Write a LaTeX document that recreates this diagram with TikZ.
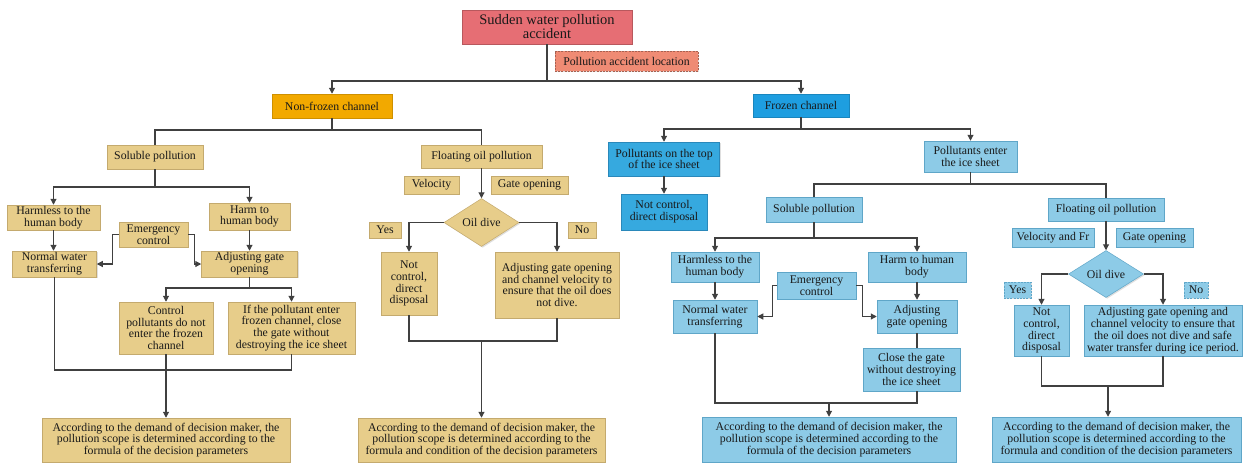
\documentclass[tikz,border=0pt]{standalone}
\usepackage{fontspec}
\setmainfont{Liberation Serif}
\usetikzlibrary{arrows.meta,shapes.geometric,shadows}
\definecolor{tanF}{HTML}{E7CD8A}
\definecolor{tanD}{HTML}{C4AA6E}
\definecolor{lbF}{HTML}{8DCBE7}
\definecolor{lbD}{HTML}{5FA6C8}
\definecolor{sbF}{HTML}{36A9DF}
\definecolor{sbD}{HTML}{2A88BA}
\definecolor{fzF}{HTML}{1E9EE0}
\definecolor{nfF}{HTML}{F2A900}
\definecolor{rdF}{HTML}{E66E74}
\definecolor{locF}{HTML}{EF8B74}
\definecolor{lineC}{HTML}{404040}
\begin{document}
\begin{tikzpicture}[x=1pt,y=-1pt,
  every node/.style={font=\fontsize{11.8}{11.8}\selectfont, text=black!90, align=center, inner sep=0.5pt},
  base/.style={rectangle, line width=0.5pt, drop shadow={shadow xshift=1.2pt, shadow yshift=-1.2pt, opacity=.25}},
  sz/.style 2 args={minimum width=#1pt, minimum height=#2pt},
  tanbox/.style={base, fill=tanF, draw=tanD},
  lbbox/.style={base, fill=lbF, draw=lbD},
  sbbox/.style={base, fill=sbF, draw=sbD},
  dia/.style={diamond, inner sep=0pt, line width=0.5pt, drop shadow={shadow xshift=1.2pt, shadow yshift=-1.2pt, opacity=.25}},
  dsh/.style={dash pattern=on 2pt off 1.2pt},
  conn/.style={draw=lineC, line width=1.1pt},
  arr/.style={conn, -{Triangle[length=6pt,width=6pt]}}
]
\fill[white] (0,0) rectangle (1246,463);
\useasboundingbox (0,0) rectangle (1246,463);

% top
\node[base, fill=rdF, draw=rdF!80!black, sz={170}{34}, font=\fontsize{14.5}{14}\selectfont] (top) at (547,27) {Sudden water pollution\\accident};
\node[base, fill=locF, draw=locF!70!black, dsh, sz={143}{20}] (loc) at (626.5,61) {Pollution accident location};
\node[base, fill=nfF, draw=nfF!85!black, sz={120}{24}] (nf) at (332,106) {Non-frozen channel};
\node[base, fill=fzF, draw=fzF!85!black, sz={96}{23}] (fz) at (801,105.5) {Frozen channel};

% left: non-frozen
\node[tanbox, sz={96}{24}] (sol1) at (155,157) {Soluble pollution};
\node[tanbox, sz={121}{23}] (flo1) at (481.5,156.5) {Floating oil pollution};
\node[tanbox, sz={93}{25}] (harmless1) at (53.5,217.5) {Harmless to the\\human body};
\node[tanbox, sz={81}{27}] (harm1) at (249.5,216.5) {Harm to\\human body};
\node[tanbox, sz={69}{25}] (emerg1) at (153.5,234.5) {Emergency\\control};
\node[tanbox, sz={84}{26}] (normal1) at (54.5,264) {Normal water\\transferring};
\node[tanbox, sz={96}{26}] (adj1) at (249.5,264) {Adjusting gate\\opening};
\node[tanbox, sz={94}{52}] (ctrl1) at (166,328) {Control\\pollutants do not\\enter the frozen\\channel};
\node[tanbox, sz={127}{52}] (if1) at (291.5,328) {If the pollutant enter\\frozen channel, close\\the gate without\\destroying the ice sheet};
\node[tanbox, sz={248}{44}] (final1) at (166,440) {According to the demand of decision maker, the\\pollution scope is determined according to the\\formula of the decision parameters};

\node[tanbox, sz={55}{18}] (vel1) at (431.5,185) {Velocity};
\node[tanbox, sz={77}{18}] (gate1) at (529.5,185) {Gate opening};
\node[dia, fill=tanF, draw=tanD, minimum width=75pt, minimum height=48pt] (dive1) at (481.5,222.5) {Oil dive};
\node[tanbox, sz={32}{16}] (yes1) at (385,230) {Yes};
\node[tanbox, sz={28}{16}] (no1) at (582,230) {No};
\node[tanbox, sz={56}{63}] (notc1) at (409,283.5) {Not\\control,\\direct\\disposal};
\node[tanbox, sz={124}{66}] (adjo1) at (557,285) {Adjusting gate opening\\and channel velocity to\\ensure that the oil does\\not dive.};
\node[tanbox, sz={247}{44}] (final2) at (481.5,440) {According to the demand of decision maker, the\\pollution scope is determined according to the\\formula and condition of the decision parameters};

% right: frozen
\node[sbbox, sz={111}{34}] (top1) at (664,159) {Pollutants on the top\\of the ice sheet};
\node[sbbox, sz={86}{36}] (notc2) at (664,212) {Not control,\\direct disposal};
\node[lbbox, sz={93}{31}] (enter) at (970.5,156.5) {Pollutants enter\\the ice sheet};
\node[lbbox, sz={96}{25}] (sol2) at (814,209.5) {Soluble pollution};
\node[lbbox, sz={116}{23}] (flo2) at (1106,209.5) {Floating oil pollution};
\node[lbbox, sz={88}{30}] (harmless2) at (715,267) {Harmless to the\\human body};
\node[lbbox, sz={98}{30}] (harm2) at (917,267) {Harm to human\\body};
\node[lbbox, sz={79}{27}] (emerg2) at (816.5,285.5) {Emergency\\control};
\node[lbbox, sz={84}{33}] (normal2) at (715,316.5) {Normal water\\transferring};
\node[lbbox, sz={80}{33}] (adj2) at (917,316.5) {Adjusting\\gate opening};
\node[lbbox, sz={97}{43}] (close2) at (911.5,369.5) {Close the gate\\without destroying\\the ice sheet};
\node[lbbox, sz={254}{45}] (final3) at (829,439.5) {According to the demand of decision maker, the\\pollution scope is determined according to the\\formula of the decision parameters};

\node[lbbox, sz={82}{19}] (vel2) at (1053,237.5) {Velocity and Fr};
\node[lbbox, sz={77}{19}] (gate2) at (1154.5,237.5) {Gate opening};
\node[dia, fill=lbF, draw=lbD, minimum width=75pt, minimum height=47pt] (dive2) at (1106,274) {Oil dive};
\node[lbbox, dsh, sz={27}{16}] (yes2) at (1017.5,290) {Yes};
\node[lbbox, dsh, sz={24}{16}] (no2) at (1196,290) {No};
\node[lbbox, sz={55}{51}] (notc3) at (1041.5,330.5) {Not\\control,\\direct\\disposal};
\node[lbbox, sz={158}{51}] (adjo2) at (1163,330.5) {Adjusting gate opening and\\channel velocity to ensure that\\the oil does not dive and safe\\water transfer during ice period.};
\node[lbbox, sz={249}{45}] (final4) at (1116.5,439.5) {According to the demand of decision maker, the\\pollution scope is determined according to the\\formula and condition of the decision parameters};

% connectors: top
\coordinate (j0) at (547,81);
\draw[arr] (top.south) -- (j0) -| (nf.north);
\draw[arr] (j0) -| (fz.north);

% left soluble
\coordinate (j1) at (332,130);
\draw[conn] (nf.south) -- (j1) -| (sol1.north);
\draw[conn] (j1) -| (flo1.north);
\coordinate (j2) at (155,187);
\draw[arr] (sol1.south) -- (j2) -| (harmless1.north);
\draw[arr] (j2) -| (harm1.north);
\draw[arr] (harmless1.south) -- (harmless1.south |- normal1.north);
\draw[arr] (harm1.south) -- (adj1.north);
\draw[arr] (emerg1.west) -- ++(-6,0) |- (normal1.east);
\draw[arr] (emerg1.east) -- ++(6,0) |- (adj1.west);
\coordinate (j3) at (249.5,288);
\draw[arr] (adj1.south) -- (j3) -| (ctrl1.north);
\draw[arr] (j3) -| (if1.north);
\coordinate (j4) at (166,370);
\draw[conn] (normal1.south) |- (if1.south |- j4) -- (if1.south);
\draw[arr] (ctrl1.south) -- (final1.north);

% left floating
\draw[arr] (flo1.south) -- (dive1.north);
\draw[arr] (dive1.west) -| (notc1.north);
\draw[arr] (dive1.east) -| (adjo1.north);
\coordinate (j5) at (481.5,341);
\draw[conn] (notc1.south) |- (adjo1.south |- j5) -- (adjo1.south);
\draw[arr] (j5) -- (final2.north);

% right
\coordinate (j6) at (801,129);
\draw[arr] (fz.south) -- (j6) -| (top1.north);
\draw[arr] (j6) -| (enter.north);
\draw[arr] (top1.south) -- (notc2.north);
\coordinate (j7) at (970.5,184);
\draw[conn] (enter.south) -- (j7) -| (sol2.north);
\draw[conn] (j7) -| (flo2.north);
\coordinate (j8) at (814,238);
\draw[arr] (sol2.south) -- (j8) -| (harmless2.north);
\draw[arr] (j8) -| (harm2.north);
\draw[arr] (harmless2.south) -- (normal2.north);
\draw[arr] (harm2.south) -- (adj2.north);
\draw[arr] (emerg2.west) -- ++(-4.5,0) |- (normal2.east);
\draw[arr] (emerg2.east) -- ++(6.5,0) |- (adj2.west);
\draw[conn] (adj2.south) -- (adj2.south |- close2.north);
\coordinate (j9) at (829,403);
\draw[conn] (normal2.south) |- (adj2.south |- j9) -- (adj2.south |- close2.south);
\draw[arr] (j9) -- (final3.north);

\draw[arr] (flo2.south) -- (dive2.north);
\draw[arr] (dive2.west) -| (notc3.north);
\draw[arr] (dive2.east) -| (adjo2.north);
\coordinate (j10) at (1108,386);
\draw[conn] (notc3.south) |- (adjo2.south |- j10) -- (adjo2.south);
\draw[arr] (j10) -- (j10 |- final4.north);
\end{tikzpicture}
\end{document}
